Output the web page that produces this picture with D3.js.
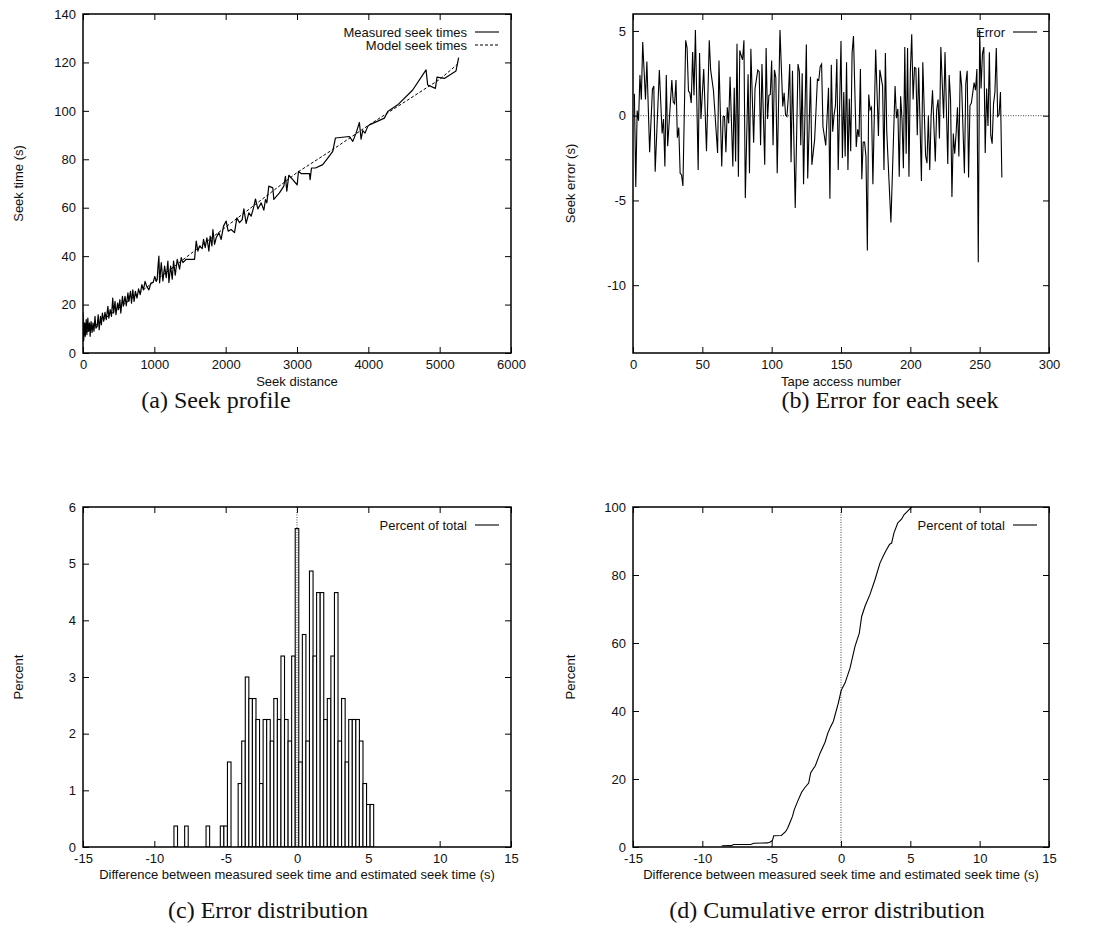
<!DOCTYPE html>
<html>
<head>
<meta charset="utf-8">
<script src="https://cdn.jsdelivr.net/npm/d3@7"></script>
<style>
  html, body { margin: 0; padding: 0; background: #fff; }
</style>
</head>
<body>
<svg id="fig" width="1096" height="939"></svg>
<script>
// ---- (a) Seek profile: measured seek times against seek distance ----
const seekDistance = [0, 9, 23, 32, 45, 54, 68, 77, 91, 100, 113, 127, 140, 154, 168, 181, 199, 213, 227, 245,
  258, 272, 290, 308, 326, 349, 362, 381, 399, 417, 430, 449, 462, 485, 498, 517, 530, 553, 566, 589,
  607, 630, 643, 666, 680, 698, 716, 734, 757, 779, 802, 825, 847, 870, 893, 924, 952, 983, 1006, 1029,
  1040, 1052, 1064, 1074, 1097, 1120, 1144, 1167, 1190, 1204, 1228, 1251, 1270, 1293, 1321, 1354, 1377, 1401, 1447, 1564,
  1587, 1611, 1634, 1671, 1690, 1713, 1737, 1765, 1783, 1807, 1821, 1844, 1867, 1905, 1937, 1970, 2007, 2035, 2077, 2124,
  2157, 2194, 2232, 2255, 2287, 2325, 2358, 2390, 2418, 2451, 2498, 2535, 2558, 2577, 2605, 2661, 2675, 2754, 2815, 2838,
  2857, 2885, 2941, 3002, 3021, 3058, 3175, 3184, 3203, 3259, 3361, 3431, 3501, 3539, 3735, 3782, 3828, 3875, 3898, 3922,
  3954, 3992, 4015, 4225, 4272, 4412, 4622, 4809, 4832, 4940, 4963, 5066, 5229, 5266];
const seekTimeMeasured = [16.8, 5.0, 12.4, 6.9, 13.8, 7.6, 14.4, 9.0, 12.4, 6.9, 13.0, 8.5, 12.4, 9.0, 15.1, 10.3, 11.0, 15.8, 9.6, 15.1,
  11.7, 16.5, 13.1, 16.8, 13.8, 19.3, 14.4, 17.9, 15.1, 22.7, 16.5, 21.3, 15.8, 20.6, 17.9, 22.0, 16.5, 23.4, 19.3, 23.4,
  19.5, 24.8, 21.3, 25.5, 20.6, 26.1, 21.3, 25.5, 22.7, 26.5, 24.1, 28.2, 26.1, 29.6, 27.5, 26.1, 28.9, 29.2, 31.6, 29.6,
  30.5, 36.0, 40.0, 29.0, 37.3, 29.8, 35.9, 31.1, 38.0, 29.1, 35.9, 30.5, 38.0, 32.1, 38.7, 34.6, 39.4, 37.3, 38.7, 38.7,
  46.2, 42.1, 44.2, 43.1, 46.9, 43.5, 47.6, 42.1, 48.3, 44.2, 51.0, 44.9, 47.6, 49.7, 46.9, 52.4, 54.5, 50.3, 51.0, 49.7,
  55.8, 53.8, 55.1, 59.5, 53.5, 57.9, 56.5, 59.9, 63.6, 59.5, 62.0, 59.0, 63.4, 62.0, 68.9, 68.2, 63.4, 66.1, 68.9, 73.0,
  66.8, 73.4, 71.6, 69.4, 75.0, 74.1, 74.1, 71.6, 76.4, 76.4, 77.8, 80.5, 83.3, 88.8, 89.4, 87.4, 90.8, 95.2, 88.3, 91.8,
  90.8, 93.6, 94.2, 97.0, 99.7, 102.5, 108.6, 116.9, 110.7, 109.3, 113.9, 113.4, 116.5, 122.0];
const modelDistance = [0, 1000, 2000, 3000, 3500, 4000, 4500, 5000, 5280];
const modelTime = [7.5, 29.5, 52.0, 74.5, 84.0, 94.0, 103.5, 113.0, 120.0];

// ---- (b) Error for each seek ----
const accessNumber = [1, 2, 3, 4, 5, 6, 7, 9, 10, 12, 14, 15, 16, 19, 21, 22, 23, 24, 25, 28,
  29, 30, 31, 32, 33, 34, 35, 36, 38, 39, 40, 41, 42, 43, 44, 45, 47, 48, 49, 51,
  53, 55, 56, 58, 61, 62, 64, 65, 66, 67, 68, 69, 70, 72, 73, 74, 75, 76, 77, 78,
  79, 80, 81, 83, 84, 85, 87, 88, 90, 91, 92, 93, 95, 96, 97, 98, 99, 100, 101, 102,
  103, 104, 106, 108, 109, 110, 111, 112, 113, 114, 115, 117, 119, 120, 121, 122, 123, 125, 126, 128,
  129, 131, 133, 134, 135, 136, 137, 138, 139, 141, 142, 143, 144, 145, 146, 147, 148, 150, 151, 152,
  153, 154, 155, 156, 157, 158, 159, 161, 162, 163, 164, 165, 166, 167, 168, 169, 170, 171, 172, 173,
  175, 177, 178, 180, 181, 182, 183, 186, 189, 190, 191, 192, 193, 194, 195, 196, 197, 198, 199, 200,
  201, 202, 203, 204, 205, 206, 208, 209, 211, 212, 213, 214, 215, 216, 218, 219, 220, 221, 222, 224,
  225, 227, 228, 229, 230, 231, 232, 233, 234, 235, 236, 237, 239, 240, 241, 242, 243, 244, 246, 247,
  248, 249, 250, 251, 252, 253, 254, 255, 256, 257, 258, 259, 260, 261, 262, 263, 264, 265, 266];
const seekError = [1.3, -4.2, 0.3, -0.3, 2.4, 0.95, 4.35, 0.95, 3.2, -2.15, 1.55, 1.75, -3.3, 2.7, -1.05, -0.2, -3.0, 2.4, -1.8, 2.1,
  0.8, 0.7, 2.1, -1.3, -0.7, -3.4, -3.5, -4.15, 4.45, 4.0, 1.45, 1.35, 0.75, 3.75, 1.2, 5.05, -3.2, 3.7, -0.2, 2.75,
  -2.1, 4.45, 2.7, 1.5, -2.2, 3.25, -3.0, -0.05, -0.05, -2.15, 0.5, -0.45, 2.3, -3.0, 1.65, -2.7, 4.25, -3.6, 3.85, 3.55,
  3.3, 4.45, -4.85, 2.45, -3.4, 3.95, -1.6, 1.6, 2.7, 2.6, -1.75, 3.05, -2.9, 4.0, -0.2, 1.2, 1.25, 3.25, -1.75, 2.7,
  2.25, -3.4, 5.05, 0.55, 1.35, 0.05, -0.05, 1.1, 3.05, -2.75, 2.65, -5.45, 3.05, 2.6, -1.75, 2.5, -4.05, 4.2, -3.7, 2.3,
  -2.9, -1.4, 2.15, 2.1, 2.9, 3.05, -0.65, -1.2, -1.75, 1.65, -4.9, 3.0, -0.95, 0.05, 0.6, 3.35, -3.2, 4.4, -2.5, 1.4,
  -2.4, 3.15, -3.2, 1.0, -2.1, 3.7, 4.7, -1.85, -0.8, -1.25, 2.75, -3.75, -1.55, -1.55, -2.4, -7.95, 1.25, 0.35, 0.5, -4.05,
  3.9, -1.2, 2.7, 1.75, -3.2, 3.7, -0.95, -6.3, 1.75, -0.15, 0.4, -3.6, 1.15, -0.2, -3.1, 4.05, -2.25, 4.0, -3.6, 2.6,
  4.8, 0.95, 2.85, 2.8, -1.15, 2.85, -3.85, 3.15, -2.35, -2.8, 0.0, -3.2, 0.0, 1.5, -2.7, 0.35, 0.95, -1.35, 4.05, -0.15,
  3.75, -2.85, 2.4, 0.95, -4.8, -1.05, -2.25, -1.05, 0.5, -2.4, 2.65, 1.75, -3.4, 1.9, 2.65, -3.65, 0.6, 0.75, 1.95, 1.5,
  2.75, -8.65, 5.05, 1.6, 3.65, 4.05, -2.2, 1.6, -0.6, 3.75, -1.15, -1.65, 0.7, 1.4, 4.0, -0.05, 0.05, 1.4, -3.65];

// ---- (c) Error distribution: 0.25 s bins, centre of each bin ----
const errorBins = [-8.5, -7.75, -6.25, -5.25, -5.0, -4.75,
  -4.0, -3.75, -3.5, -3.25, -3.0, -2.75, -2.5, -2.25, -2.0, -1.75, -1.5, -1.25, -1.0, -0.75, -0.5, -0.25,
  0,
  0.25, 0.5, 0.75, 1.0, 1.25, 1.5, 1.75, 2.0, 2.25, 2.5, 2.75, 3.0, 3.25, 3.5, 3.75, 4.0, 4.25, 4.5, 4.75, 5.0, 5.25];
const binPercent = [0.37, 0.37, 0.37, 0.37, 0.37, 1.50,
  1.12, 1.87, 3.00, 2.62, 2.62, 2.25, 1.12, 2.25, 2.25, 1.87, 2.62, 2.25, 3.37, 2.25, 1.87, 3.37,
  5.62,
  1.50, 3.75, 1.87, 4.87, 3.37, 4.49, 4.49, 2.25, 2.62, 3.37, 4.49, 1.87, 2.62, 1.50, 2.25, 2.25, 2.25, 1.87, 1.12, 0.75, 0.75];

// ---- (d) Cumulative error distribution ----
const cumError = [-8.6, -7.9, -7.75, -6.5, -6.3, -5.3, -5.1, -4.95, -4.85, -4.3, -4.0, -3.85, -3.7, -3.5, -3.37, -3.12, -2.84, -2.6, -2.33, -2.19,
  -2.0, -1.85, -1.51, -1.15, -0.95, -0.79, -0.55, -0.19, 0.0, 0.1, 0.29, 0.65, 1.01, 1.32, 1.49, 1.73, 2.09, 2.45, 2.81, 3.1,
  3.29, 3.5, 3.65, 3.82, 4.09, 4.38, 4.54, 4.86, 5.1];
const cumPercent = [0.37, 0.4, 0.75, 0.75, 1.1, 1.2, 1.5, 1.9, 3.3, 3.4, 4.5, 5.5, 7.0, 9.0, 11.0, 13.5, 16.1, 17.5, 18.8, 21.8,
  23.0, 23.9, 27.6, 30.8, 33.5, 35.0, 37.0, 42.4, 45.8, 46.8, 48.2, 52.6, 59.0, 62.9, 67.8, 70.8, 74.3, 78.6, 83.5, 86.0,
  87.5, 89.0, 89.4, 92.4, 95.3, 96.5, 97.7, 99.0, 100.0];

// ---- tick values ----
const ticksSeekDist = [0, 1000, 2000, 3000, 4000, 5000, 6000];
const ticksSeekTime = [0, 20, 40, 60, 80, 100, 120, 140];
const ticksAccess = [0, 50, 100, 150, 200, 250, 300];
const ticksSeekErr = [-10, -5, 0, 5];
const ticksDiff = [-15, -10, -5, 0, 5, 10, 15];
const ticksPct = [0, 1, 2, 3, 4, 5, 6];
const ticksCumPct = [0, 20, 40, 60, 80, 100];

const SANS = "'Liberation Sans', Arial, Helvetica, sans-serif";
const SERIF = "'Liberation Serif', 'Times New Roman', serif";
const svg = d3.select("#fig");
const fmt = d => String(d);   // plain hyphen for negatives
const TICK = 6;
let clipId = 0;

function panel(o) {
  const g = svg.append("g");
  const x = d3.scaleLinear().domain(o.xDomain).range([o.left, o.right]);
  const y = d3.scaleLinear().domain(o.yDomain).range([o.bottom, o.top]);

  const styleAxis = sel => {
    sel.select(".domain").remove();
    sel.attr("font-family", SANS).attr("font-size", 13);
    sel.selectAll("line").attr("stroke", "#000").attr("stroke-width", 1);
    sel.selectAll("text").attr("fill", "#111");
  };

  g.append("g").attr("transform", `translate(0,${o.bottom})`)
    .call(d3.axisBottom(x).tickValues(o.xTicks).tickFormat(fmt).tickSizeInner(-TICK).tickSizeOuter(0).tickPadding(7))
    .call(styleAxis);
  g.append("g").attr("transform", `translate(0,${o.top})`)
    .call(d3.axisTop(x).tickValues(o.xTicks).tickFormat("").tickSizeInner(-TICK).tickSizeOuter(0))
    .call(styleAxis);
  g.append("g").attr("transform", `translate(${o.left},0)`)
    .call(d3.axisLeft(y).tickValues(o.yTicks).tickFormat(fmt).tickSizeInner(-TICK).tickSizeOuter(0).tickPadding(7))
    .call(styleAxis);
  g.append("g").attr("transform", `translate(${o.right},0)`)
    .call(d3.axisRight(y).tickValues(o.yTicks).tickFormat("").tickSizeInner(-TICK).tickSizeOuter(0))
    .call(styleAxis);

  const id = "clip" + (clipId++);
  svg.append("clipPath").attr("id", id).append("rect")
    .attr("x", o.left).attr("y", o.top).attr("width", o.right - o.left).attr("height", o.bottom - o.top);
  const plot = g.append("g").attr("clip-path", `url(#${id})`);

  // axis titles
  g.append("text").attr("x", (o.left + o.right) / 2).attr("y", o.xLabelY)
    .attr("text-anchor", "middle").attr("font-family", SANS).attr("font-size", 13).attr("fill", "#111")
    .text(o.xLabel);
  g.append("text").attr("transform", `translate(${o.yLabelX},${(o.top + o.bottom) / 2}) rotate(-90)`)
    .attr("text-anchor", "middle").attr("dominant-baseline", "central")
    .attr("font-family", SANS).attr("font-size", 13).attr("fill", "#111")
    .text(o.yLabel);

  // sub-figure caption
  g.append("text").attr("x", o.captionX).attr("y", o.captionY)
    .attr("text-anchor", "middle").attr("font-family", SERIF).attr("font-size", 24).attr("fill", "#111")
    .text(o.caption);

  return { g, plot, x, y, frame: () =>
    g.append("rect").attr("x", o.left).attr("y", o.top)
      .attr("width", o.right - o.left).attr("height", o.bottom - o.top)
      .attr("fill", "none").attr("stroke", "#000").attr("stroke-width", 1.5) };
}

function legend(g, xEnd, yMid, label, dash) {
  g.append("text").attr("x", xEnd).attr("y", yMid).attr("dy", "0.35em")
    .attr("text-anchor", "end").attr("font-family", SANS).attr("font-size", 13).attr("fill", "#111")
    .text(label);
  g.append("line").attr("x1", xEnd + 8).attr("x2", xEnd + 32).attr("y1", yMid).attr("y2", yMid)
    .attr("stroke", "#000").attr("stroke-width", 1.1).attr("stroke-dasharray", dash || null);
}

function zeroLine(plot, x1, y1, x2, y2) {
  plot.append("line").attr("x1", x1).attr("y1", y1).attr("x2", x2).attr("y2", y2)
    .attr("stroke", "#444").attr("stroke-width", 1).attr("stroke-dasharray", "1 1.5");
}

// (a)
{
  const p = panel({ left: 83, right: 511, top: 14, bottom: 353,
    xDomain: [0, 6000], yDomain: [0, 140], xTicks: ticksSeekDist, yTicks: ticksSeekTime,
    xLabel: "Seek distance", xLabelY: 386, yLabel: "Seek time (s)", yLabelX: 18,
    caption: "(a) Seek profile", captionX: 216, captionY: 408 });
  const line = d3.line().x(d => p.x(d[0])).y(d => p.y(d[1]));
  p.plot.append("path").datum(modelDistance.map((d, i) => [d, modelTime[i]]))
    .attr("d", line).attr("fill", "none").attr("stroke", "#000").attr("stroke-width", 1)
    .attr("stroke-dasharray", "3 2");
  p.plot.append("path").datum(seekDistance.map((d, i) => [d, seekTimeMeasured[i]]))
    .attr("d", line).attr("fill", "none").attr("stroke", "#000").attr("stroke-width", 1.2)
    .attr("stroke-linejoin", "round");
  p.frame();
  legend(p.g, 467, 32, "Measured seek times");
  legend(p.g, 467, 45, "Model seek times", "3 2");
}

// (b)
{
  const p = panel({ left: 633, right: 1049, top: 14, bottom: 353,
    xDomain: [0, 300], yDomain: [-14, 6], xTicks: ticksAccess, yTicks: ticksSeekErr,
    xLabel: "Tape access number", xLabelY: 386, yLabel: "Seek error (s)", yLabelX: 570,
    caption: "(b) Error for each seek", captionX: 890, captionY: 408 });
  zeroLine(p.plot, 633, p.y(0), 1049, p.y(0));
  const line = d3.line().x(d => p.x(d[0])).y(d => p.y(d[1]));
  p.plot.append("path").datum(accessNumber.map((d, i) => [d, seekError[i]]))
    .attr("d", line).attr("fill", "none").attr("stroke", "#000").attr("stroke-width", 1.1)
    .attr("stroke-linejoin", "miter");
  p.frame();
  legend(p.g, 1005, 32, "Error");
}

// (c)
{
  const p = panel({ left: 83, right: 511, top: 507, bottom: 847,
    xDomain: [-15, 15], yDomain: [0, 6], xTicks: ticksDiff, yTicks: ticksPct,
    xLabel: "Difference between measured seek time and estimated seek time (s)", xLabelY: 879,
    yLabel: "Percent", yLabelX: 18,
    caption: "(c) Error distribution", captionX: 268, captionY: 918 });
  const half = 0.125;
  p.plot.selectAll("rect.bin").data(errorBins.map((c, i) => [c, binPercent[i]]))
    .join("rect").attr("class", "bin")
    .attr("x", d => p.x(d[0] - half)).attr("width", d => p.x(d[0] + half) - p.x(d[0] - half))
    .attr("y", d => p.y(d[1])).attr("height", d => p.y(0) - p.y(d[1]))
    .attr("fill", "#fff").attr("stroke", "#000").attr("stroke-width", 1.1);
  zeroLine(p.plot, p.x(0), 507, p.x(0), 847);
  p.frame();
  legend(p.g, 467, 525, "Percent of total");
}

// (d)
{
  const p = panel({ left: 633, right: 1049, top: 507, bottom: 847,
    xDomain: [-15, 15], yDomain: [0, 100], xTicks: ticksDiff, yTicks: ticksCumPct,
    xLabel: "Difference between measured seek time and estimated seek time (s)", xLabelY: 879,
    yLabel: "Percent", yLabelX: 570,
    caption: "(d) Cumulative error distribution", captionX: 827, captionY: 918 });
  zeroLine(p.plot, p.x(0), 507, p.x(0), 847);
  const line = d3.line().x(d => p.x(d[0])).y(d => p.y(d[1]));
  p.plot.append("path").datum(cumError.map((d, i) => [d, cumPercent[i]]))
    .attr("d", line).attr("fill", "none").attr("stroke", "#000").attr("stroke-width", 1.1);
  p.frame();
  legend(p.g, 1005, 525, "Percent of total");
}
</script>
</body>
</html>
